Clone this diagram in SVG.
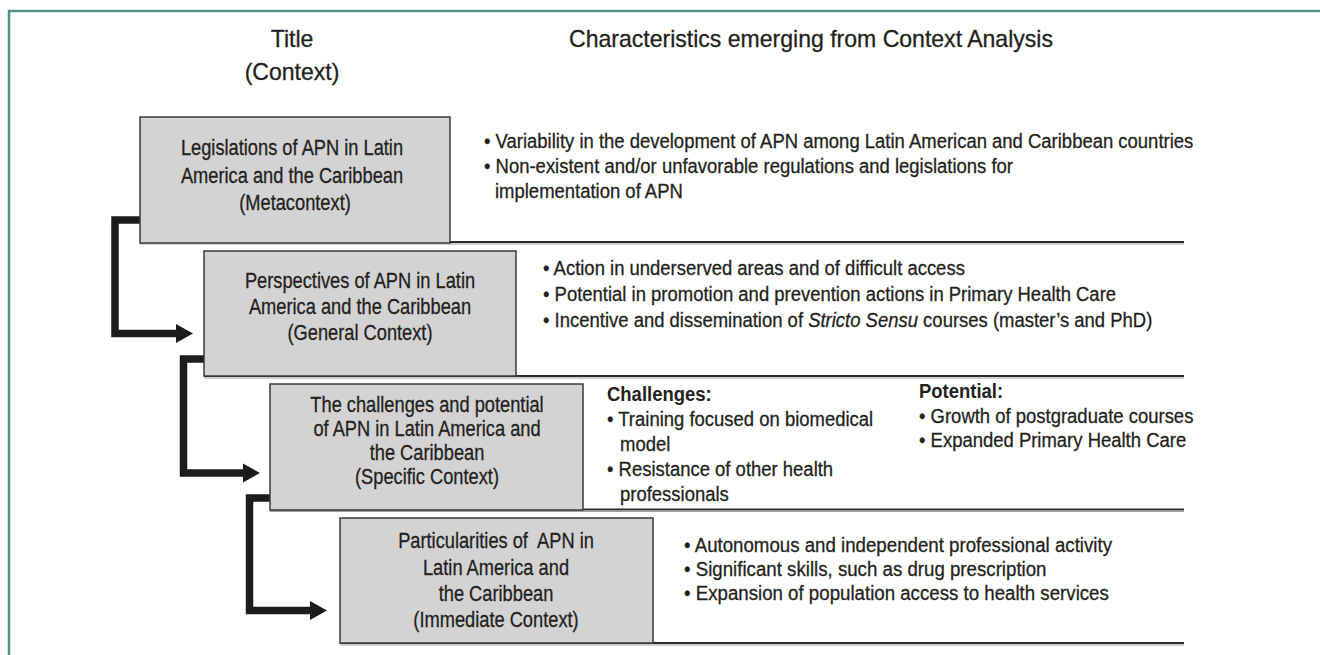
<svg xmlns="http://www.w3.org/2000/svg" width="1320" height="655" viewBox="0 0 1320 655">
<defs>
<style>
text { font-family: "Liberation Sans", Arial, sans-serif; fill: #231f20; stroke: #231f20; stroke-width: 0.3; }
.hdr { font-size: 24px; text-anchor: middle; }
.bx { font-size: 22px; text-anchor: middle; }
.bul { font-size: 21px; }
.b { font-weight: bold; stroke-width: 0; }
.box { fill: #d3d3d4; stroke: #3a3a3a; stroke-width: 1.5; }
.rule { stroke: #2b2b2b; stroke-width: 2; }
.rule2 { stroke: #a0a0a0; stroke-width: 1.2; }
.conn { fill: none; stroke: #1c1c1c; stroke-width: 7.5; stroke-linejoin: miter; }
</style>
<marker id="ah" markerUnits="userSpaceOnUse" markerWidth="18" markerHeight="21" viewBox="0 0 18 21" refX="1" refY="10" orient="auto">
<path d="M0,0.5 L17,10 L0,19.5 z" fill="#1c1c1c"/>
</marker>
</defs>
<rect width="1320" height="655" fill="#fff"/>
<path d="M9,655 V11 H1320" fill="none" stroke="#4f9486" stroke-width="2.5"/>

<g id="headers">
<text class="hdr" transform="translate(292,47) scale(0.96,1)">Title</text>
<text class="hdr" transform="translate(292,80) scale(0.96,1)">(Context)</text>
<text class="hdr" transform="translate(811,47) scale(0.96,1)">Characteristics emerging from Context Analysis</text>
</g>

<g id="rules">
<line class="rule" x1="140" y1="242" x2="1184" y2="242"/>
<line class="rule2" x1="140" y1="244" x2="1184" y2="244"/>
<line class="rule" x1="204" y1="376" x2="1184" y2="376"/>
<line class="rule2" x1="204" y1="378" x2="1184" y2="378"/>
<line class="rule" x1="270" y1="509.5" x2="1184" y2="509.5"/>
<line class="rule2" x1="270" y1="511.5" x2="1184" y2="511.5"/>
<line class="rule" x1="340" y1="643" x2="1184" y2="643"/>
<line class="rule2" x1="340" y1="645" x2="1184" y2="645"/>
</g>

<g id="connectors">
<path class="conn" d="M140,220 H115 V333.5 H177" marker-end="url(#ah)"/>
<path class="conn" d="M204,359 H183.5 V473 H244" marker-end="url(#ah)"/>
<path class="conn" d="M270,498 H249.5 V610.5 H311" marker-end="url(#ah)"/>
</g>

<g id="node-metacontext">
<rect class="box" x="140" y="117" width="310" height="126"/>
<text class="bx" transform="translate(292,155) scale(0.83,1)">Legislations of APN in Latin</text>
<text class="bx" transform="translate(292,183) scale(0.83,1)">America and the Caribbean</text>
<text class="bx" transform="translate(295,210) scale(0.83,1)">(Metacontext)</text>
</g>
<g id="text-metacontext">
<text class="bul" transform="translate(484,148) scale(0.88,1)">• Variability in the development of APN among Latin American and Caribbean countries</text>
<text class="bul" transform="translate(484,173) scale(0.88,1)">• Non-existent and/or unfavorable regulations and legislations for</text>
<text class="bul" transform="translate(495,198) scale(0.88,1)">implementation of APN</text>
</g>

<g id="node-general">
<rect class="box" x="204" y="251" width="312" height="125"/>
<text class="bx" transform="translate(360,288) scale(0.83,1)">Perspectives of APN in Latin</text>
<text class="bx" transform="translate(360,314) scale(0.83,1)">America and the Caribbean</text>
<text class="bx" transform="translate(360,340) scale(0.83,1)">(General Context)</text>
</g>
<g id="text-general">
<text class="bul" transform="translate(543,275) scale(0.88,1)">• Action in underserved areas and of difficult access</text>
<text class="bul" transform="translate(543,301) scale(0.88,1)">• Potential in promotion and prevention actions in Primary Health Care</text>
<text class="bul" transform="translate(543,327) scale(0.88,1)">• Incentive and dissemination of <tspan font-style="italic">Stricto Sensu</tspan> courses (master’s and PhD)</text>
</g>

<g id="node-specific">
<rect class="box" x="270" y="384" width="313" height="126"/>
<text class="bx" transform="translate(427,412) scale(0.83,1)">The challenges and potential</text>
<text class="bx" transform="translate(427,436) scale(0.83,1)">of APN in Latin America and</text>
<text class="bx" transform="translate(427,460) scale(0.83,1)">the Caribbean</text>
<text class="bx" transform="translate(427,484) scale(0.83,1)">(Specific Context)</text>
</g>
<g id="text-specific">
<text class="bul b" transform="translate(607,401) scale(0.88,1)">Challenges:</text>
<text class="bul" transform="translate(607,426) scale(0.88,1)">• Training focused on biomedical</text>
<text class="bul" transform="translate(620,451) scale(0.88,1)">model</text>
<text class="bul" transform="translate(607,476) scale(0.88,1)">• Resistance of other health</text>
<text class="bul" transform="translate(620,501) scale(0.88,1)">professionals</text>
<text class="bul b" transform="translate(919,398) scale(0.88,1)">Potential:</text>
<text class="bul" transform="translate(919,423) scale(0.88,1)">• Growth of postgraduate courses</text>
<text class="bul" transform="translate(919,447) scale(0.88,1)">• Expanded Primary Health Care</text>
</g>

<g id="node-immediate">
<rect class="box" x="340" y="518" width="313" height="125"/>
<text class="bx" xml:space="preserve" transform="translate(496,548) scale(0.83,1)">Particularities of  APN in</text>
<text class="bx" transform="translate(496,575) scale(0.83,1)">Latin America and</text>
<text class="bx" transform="translate(496,601) scale(0.83,1)">the Caribbean</text>
<text class="bx" transform="translate(496,627) scale(0.83,1)">(Immediate Context)</text>
</g>
<g id="text-immediate">
<text class="bul" transform="translate(684,552) scale(0.89,1)">• Autonomous and independent professional activity</text>
<text class="bul" transform="translate(684,576) scale(0.89,1)">• Significant skills, such as drug prescription</text>
<text class="bul" transform="translate(684,600) scale(0.89,1)">• Expansion of population access to health services</text>
</g>
</svg>
